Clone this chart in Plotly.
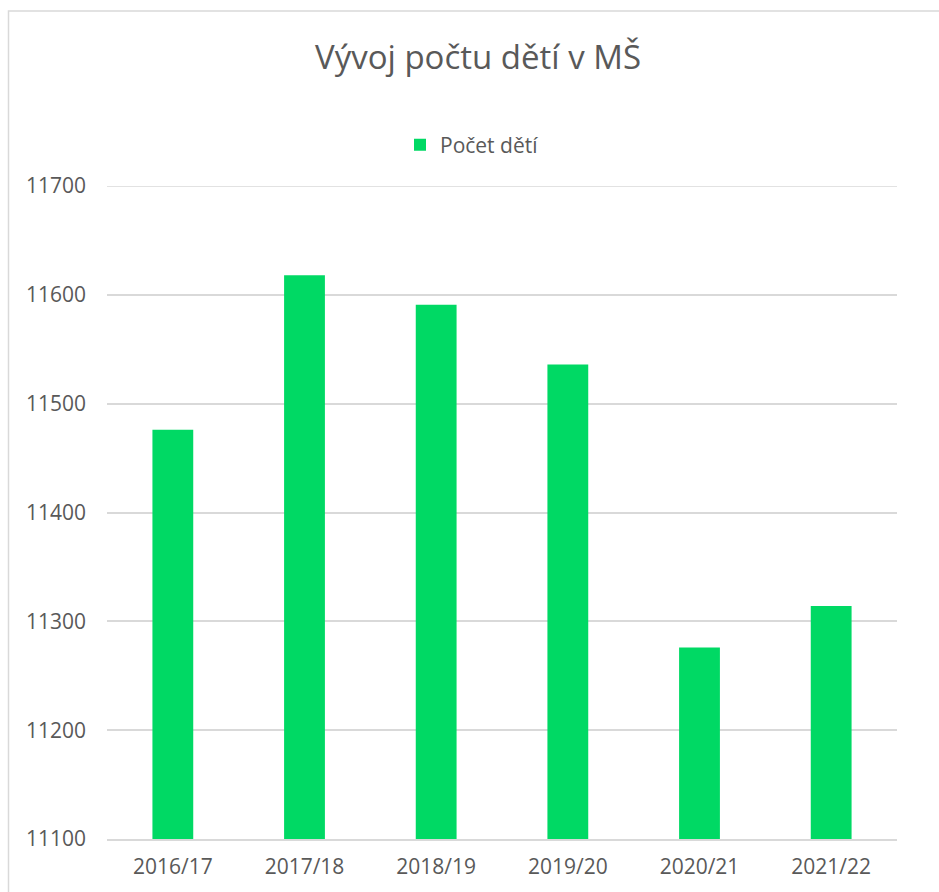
import plotly.graph_objects as go

categories = ["2016/17", "2017/18", "2018/19", "2019/20", "2020/21", "2021/22"]
values = [11476, 11618, 11591, 11536, 11276, 11314]
series_name = "Počet dětí"
title_text = "Vývoj počtu dětí v MŠ"
y_min, y_max, y_step = 11100, 11700, 100

W, H = 939, 892
L, R, T, B = 107, 42, 186, 53
pw, ph = W - L - R, H - T - B

def px_to_paper_x(px):
    return (px - L) / pw

def px_to_paper_y(py):
    return (H - B - py) / ph

fig = go.Figure()
fig.add_trace(go.Bar(
    x=categories, y=values, name=series_name,
    marker=dict(color="#00D964", line=dict(width=0)),
    showlegend=True,
))

font_family = "Open Sans, Liberation Sans, sans-serif"
fig.update_layout(
    width=W, height=H,
    margin=dict(l=L, r=R, t=T, b=B),
    paper_bgcolor="white", plot_bgcolor="white",
    bargap=0.69,
    font=dict(family=font_family, color="#595959", size=21),
    title=dict(text=title_text, x=478 / W, xref="container", xanchor="center",
               y=1 - 57 / H, yref="container", yanchor="middle",
               font=dict(size=33, color="#595959", family=font_family)),
    showlegend=True,
    legend=dict(orientation="h", x=px_to_paper_x(472), xanchor="center",
                y=px_to_paper_y(145), yanchor="middle",
                font=dict(size=21, color="#595959"),
                itemwidth=30, itemsizing="constant", bgcolor="rgba(0,0,0,0)"),
    xaxis=dict(showgrid=False, showline=True, linecolor="#d9d9d9", linewidth=1.5,
               ticks="", tickfont=dict(size=21, color="#595959"), ticklabelstandoff=8),
    yaxis=dict(range=[y_min, y_max], dtick=y_step, tick0=y_min,
               showgrid=True, gridcolor="#d9d9d9", gridwidth=1.5,
               zeroline=False, showline=False, ticks="",
               tickformat="d",
               tickfont=dict(size=21, color="#595959"), ticklabelstandoff=20),
    shapes=[
        dict(type="rect", xref="paper", yref="paper",
             x0=px_to_paper_x(8.5), x1=px_to_paper_x(960),
             y0=px_to_paper_y(910), y1=px_to_paper_y(11),
             line=dict(color="#d9d9d9", width=1.5), fillcolor="rgba(0,0,0,0)",
             layer="below"),
        dict(type="line", xref="paper", yref="y", x0=0, x1=1, y0=y_max, y1=y_max,
             line=dict(color="#d9d9d9", width=1.5), layer="below"),
    ],
)

fig.write_html("out.html", config={"displayModeBar": False},
               post_script="document.body.style.margin='0';document.body.style.overflow='hidden';")
